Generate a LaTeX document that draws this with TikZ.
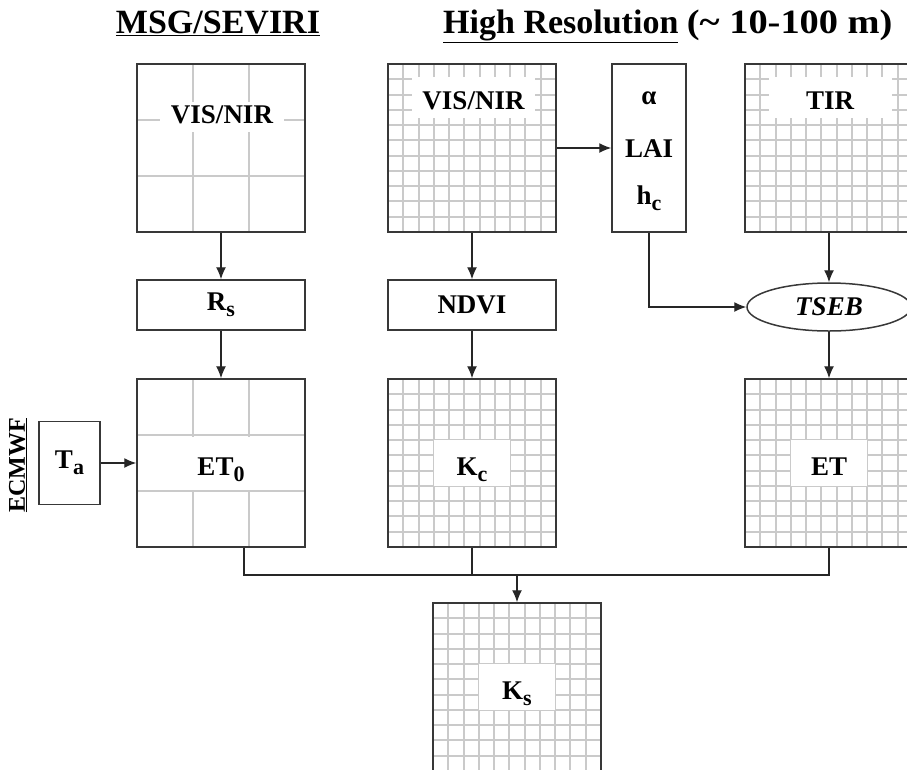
\documentclass[tikz,border=0pt]{standalone}
\usepackage{fontspec}
\usepackage{graphicx}
\setmainfont{Liberation Serif}
\usetikzlibrary{arrows.meta,shapes.geometric}

\definecolor{gridgray}{HTML}{CACACA}
\definecolor{boxgray}{HTML}{383838}

% lowered subscript as in the figure
\newcommand{\lowsub}[1]{\raisebox{-6pt}{\fontsize{22}{24}\selectfont #1}}

\begin{document}
\begin{tikzpicture}[x=1pt,y=-1pt,
    >={Latex[length=12pt,width=10pt]},
    every node/.style={font=\fontsize{27}{30}\selectfont\bfseries},
    box/.style={draw=boxgray,line width=1.5pt,minimum width=168pt,minimum height=168pt,inner sep=0pt},
    smallbox/.style={draw=boxgray,line width=1.5pt,minimum width=168pt,minimum height=50pt,inner sep=0pt},
    lbl/.style={fill=white,inner sep=0pt,text height=30pt,text depth=6pt},
    gridline/.style={gridgray,line width=2pt},
    conn/.style={black!85,line width=1.3pt}]

      \useasboundingbox (0,0) rectangle (907,769);

      % Titles
      \node[font=\fontsize{34}{40}\selectfont\bfseries,anchor=base] (msgtitle) at (218,33) {\underline{MSG/SEVIRI}};
      \node[font=\fontsize{34}{40}\selectfont\bfseries,anchor=base west,inner sep=0pt] (hrtitle) at (443,33) {\underline{High Resolution} \scalebox{1.13}[1]{(\textasciitilde{} 10-100 m)}};
      \node[font=\fontsize{24}{28}\selectfont\bfseries,rotate=90] (ecmwf) at (18,465) {\underline{ECMWF}};

      % Coarse grids (MSG/SEVIRI)
      \foreach \gy in {64,379}
          \foreach \i in {1,2} {
              \draw[gridline] (137+\i*56,\gy) -- ++(0,168);
              \draw[gridline] (137,\gy+\i*56) -- ++(168,0);
          }

      % Fine grids (high resolution)
      \foreach \gx/\gy in {388/64,388/379,745/64,745/379,433/603}
          \foreach \i in {1,...,10} {
              \draw[gridline] ({\gx+round(\i*15.27)},\gy) -- ++(0,168);
              \draw[gridline] (\gx,{\gy+round(\i*15.27)}) -- ++(168,0);
          }

      % Image boxes
      \node[box] (msgvis) at (221,148) {};
      \node[box] (et0) at (221,463) {};
      \node[box] (hrvis) at (472,148) {};
      \node[box] (kc) at (472,463) {};
      \node[box] (tir) at (829,148) {};
      \node[box] (et) at (829,463) {};
      \node[box] (ks) at (517,687) {};

      % Labels inside the images
      \node[lbl,minimum width=124pt,minimum height=30pt,text height=19pt] (msgvislbl) at (222,117) {VIS/NIR};
      \node[lbl,minimum width=124pt,minimum height=53pt] (et0lbl) at (221,463) {ET\lowsub{0}};
      \node[lbl,minimum width=123pt,minimum height=41pt] (hrvislbl) at (473.5,97) {VIS/NIR};
      \node[lbl,minimum width=123pt,minimum height=41pt] (tirlbl) at (830,97) {TIR};
      \node[lbl,minimum width=76pt,minimum height=46pt] (kclbl) at (472,463) {K\lowsub{c}};
      \node[lbl,minimum width=76pt,minimum height=46pt] (etlbl) at (829,463) {ET};
      \node[lbl,minimum width=76pt,minimum height=46pt] (kslbl) at (517,687) {K\lowsub{s}};

      % Other boxes
      \node[smallbox] (rs) at (221,305) {R\lowsub{s}};
      \node[smallbox] (ndvi) at (472,305) {NDVI};
      \node[draw=boxgray,line width=1.5pt,minimum width=74pt,minimum height=168pt,inner sep=0pt] (par) at (649,148) {};
      \node (alpha) at (649,98) {α};
      \node (lai) at (649,149) {LAI};
      \node (hc) at (649,198) {h\lowsub{c}};
      \node[ellipse,draw=boxgray,line width=1.5pt,minimum width=164pt,minimum height=48pt,inner sep=0pt] (tseb) at (829,307) {\textit{TSEB}};
      \node[draw=boxgray,line width=1.5pt,minimum width=61pt,minimum height=83pt,inner sep=0pt] (ta) at (69.5,463) {T\lowsub{a}};

      % Arrows
      \draw[conn,->] (msgvis.south) -- (rs.north);
      \draw[conn,->] (rs.south) -- (et0.north);
      \draw[conn,->] (ta.east) -- (et0.west);
      \draw[conn,->] (hrvis.south) -- (ndvi.north);
      \draw[conn,->] (ndvi.south) -- (kc.north);
      \draw[conn,->] (hrvis.east) -- (par.west);
      \draw[conn,->] (par.south) |- (tseb.west);
      \draw[conn,->] (tir.south) -- (tseb.north);
      \draw[conn,->] (tseb.south) -- (et.north);

      % Merge into K_s
      \coordinate (join) at (517,575);
      \draw[conn] ([xshift=23pt]et0.south) |- (join) -| (et.south);
      \draw[conn] (kc.south) -- (kc.south |- join);
      \draw[conn,->] (join) -- (ks.north);

\end{tikzpicture}
\end{document}
